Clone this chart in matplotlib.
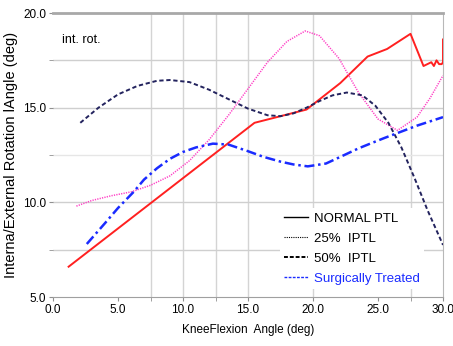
import matplotlib
matplotlib.use("Agg")
import matplotlib.pyplot as plt
from matplotlib.lines import Line2D

plt.rcParams['font.family'] = ['Liberation Sans Narrow', 'Liberation Sans', 'DejaVu Sans']

# NORMAL PTL (red, solid)
normal_x = [1.2, 15.5, 19.5, 22.1, 24.2, 25.7, 27.5, 28.5, 29.1, 29.3, 29.5, 29.7, 29.9, 30.0, 30.0]
normal_y = [6.6, 14.2, 14.9, 16.3, 17.7, 18.1, 18.9, 17.2, 17.4, 17.2, 17.5, 17.3, 17.3, 17.4, 18.6]

# 25% IPTL (pink, dotted)
iptl25_x = [1.8, 3.0, 4.5, 6.0, 7.5, 9.0, 10.5, 12.0, 13.5, 15.0, 16.5, 18.0, 19.4, 20.5, 22.0,
            23.5, 25.0, 26.5, 28.0, 29.0, 30.0]
iptl25_y = [9.8, 10.1, 10.35, 10.55, 10.9, 11.4, 12.2, 13.3, 14.6, 16.0, 17.4, 18.5, 19.05, 18.8, 17.6,
            15.8, 14.4, 13.8, 14.5, 15.5, 16.7]

# 50% IPTL (navy, dashed)
iptl50_x = [2.1, 3.5, 5.0, 6.5, 8.0, 9.0, 10.5, 12.0, 13.5, 15.0, 16.5, 17.5, 18.5, 19.5, 20.5,
            21.5, 22.6, 23.8, 24.8, 25.8, 26.8, 27.8, 28.8, 30.0]
iptl50_y = [14.2, 15.0, 15.7, 16.15, 16.42, 16.46, 16.35, 15.95, 15.45, 14.95, 14.6, 14.55, 14.7, 15.0, 15.35,
            15.65, 15.8, 15.65, 15.1, 14.2, 12.9, 11.3, 9.6, 7.75]

# Surgically Treated (blue, dash-dot)
surg_x = [2.6, 4.0, 5.0, 6.2, 7.0, 8.0, 9.0, 10.0, 11.0, 12.3, 13.5, 15.0, 16.2, 17.5, 18.5,
          19.6, 21.0, 22.1, 23.5, 24.4, 25.5, 26.5, 28.0, 30.0]
surg_y = [7.8, 8.9, 9.7, 10.55, 11.2, 11.8, 12.3, 12.66, 12.9, 13.1, 13.05, 12.7, 12.4, 12.15, 12.0,
          11.9, 12.05, 12.4, 12.85, 13.1, 13.4, 13.66, 14.05, 14.5]

x_ticks = [0, 5, 10, 15, 20, 25, 30]
y_ticks = [5, 10, 15, 20]
x_grid = [7.5, 10, 12.5, 15, 20, 27.5]
y_grid = [7.5, 10, 12.5, 15, 17.5]

fig = plt.figure(figsize=(4.53, 3.46), dpi=100)
ax = fig.add_axes([53 / 453, 1 - 297 / 346, 390 / 453, 284 / 346])

for g in x_grid:
    ax.axvline(g, color='#d4d4d4', lw=1, zorder=0)
for g in y_grid:
    ax.axhline(g, color='#e6e6e6' if g == 12.5 else '#cfcfcf', lw=1, zorder=0)

ax.plot(normal_x, normal_y, color='#ff2020', lw=1.4, zorder=3)
ax.plot(iptl25_x, iptl25_y, color='#ff3fc6', lw=1.1, linestyle=(0, (0.8, 0.8)), zorder=3)
ax.plot(iptl50_x, iptl50_y, color='#23235e', lw=1.4, linestyle=(0, (2.2, 1.4)), zorder=3)
ax.plot(surg_x, surg_y, color='#1a2bff', lw=1.8, linestyle=(0, (4, 1.5, 1, 1.5)), zorder=3)

ax.set_xlim(0, 30)
ax.set_ylim(5, 20)
ax.set_xticks(x_ticks)
ax.set_yticks(y_ticks)
ax.set_xticks(x_grid, minor=True)
ax.set_yticks(y_grid, minor=True)
ax.set_xticklabels([f"{t:.1f}" for t in x_ticks])
ax.set_yticklabels([f"{t:.1f}" for t in y_ticks])
ax.tick_params(axis='both', which='both', length=3, color='#909090', labelsize=8.5, pad=2)

ax.spines['left'].set_visible(False)
ax.spines['top'].set_color('#a8a8a8')
ax.spines['top'].set_linewidth(2)
ax.spines['bottom'].set_color('#a0a0a0')
ax.spines['right'].set_color('#b8b8b8')

ax.set_xlabel("KneeFlexion  Angle (deg)", fontsize=8.5, labelpad=6)
ax.set_ylabel("Interna/External Rotation lAngle (deg)", fontsize=10.5)
ax.yaxis.set_label_coords(-0.09, 0.5)

ax.text(0.022, 0.905, "int. rot.", transform=ax.transAxes, fontsize=9, va='center')

handles = [
    Line2D([], [], color='black', lw=1),
    Line2D([], [], color='black', lw=0.8, linestyle=(0, (1, 1))),
    Line2D([], [], color='black', lw=1.4, linestyle=(0, (2, 1))),
    Line2D([], [], color='#1a2bff', lw=1, linestyle=(0, (2, 1))),
]
labels = ["NORMAL PTL", "25%  IPTL", "50%  IPTL", "Surgically Treated"]
leg = ax.legend(handles, labels, loc='upper left', bbox_to_anchor=(0.565, 0.335),
                fontsize=9.5, frameon=True, facecolor='white', edgecolor='none',
                fancybox=False, framealpha=1, handlelength=1.8, handletextpad=0.5,
                labelspacing=0.6, borderpad=0.3)
leg.get_texts()[3].set_color('#1a2bff')
leg.set_zorder(2)

fig.savefig("out.png", dpi=100)
